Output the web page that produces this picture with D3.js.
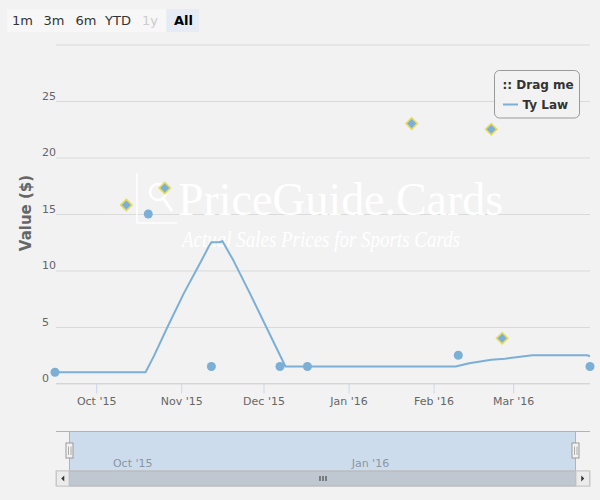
<!DOCTYPE html>
<html>
<head>
<meta charset="utf-8">
<script src="https://cdn.jsdelivr.net/npm/d3@7"></script>
<style>
  body { margin: 0; background: #f2f2f2; }
  svg { display: block; font-family: "DejaVu Sans", sans-serif; }
</style>
</head>
<body>
<script>
// Ty Law price history - line (rolling value), sales dots and listing diamonds

const lineDates = ["2015-09-16", "2015-10-19", "2015-10-22", "2015-10-27", "2015-11-02", "2015-11-08",
  "2015-11-11", "2015-11-12", "2015-11-15", "2015-11-16", "2015-11-20", "2015-11-26", "2015-12-02",
  "2015-12-07", "2015-12-09", "2016-02-09", "2016-02-14", "2016-02-22", "2016-02-27", "2016-03-08",
  "2016-03-28", "2016-03-29"];
const lineValues = [1.0, 1.0, 2.4, 5.0, 8.0, 10.7, 12.1, 12.5, 12.5, 12.6, 10.9, 8.0, 5.0,
  2.5, 1.5, 1.5, 1.8, 2.1, 2.2, 2.5, 2.5, 2.4];

const saleDates = ["2015-09-16", "2015-10-20", "2015-11-12", "2015-12-07", "2015-12-17", "2016-02-10", "2016-03-29"];
const saleValues = [1.0, 15.0, 1.5, 1.5, 1.5, 2.5, 1.5];

const gradedDates = ["2015-10-12", "2015-10-26", "2016-01-24", "2016-02-22", "2016-02-26"];
const gradedValues = [15.8, 17.3, 23.0, 22.5, 4.0];

const yTicks = [0, 5, 10, 15, 20, 25, 30];
const rangeButtons = ["1m", "3m", "6m", "YTD", "1y", "All"];
const seriesName = "Ty Law";

const parse = d3.timeParse("%Y-%m-%d");
const lineData = lineDates.map((d, i) => ({ date: parse(d), v: lineValues[i] }));
const saleData = saleDates.map((d, i) => ({ date: parse(d), v: saleValues[i] }));
const gradedData = gradedDates.map((d, i) => ({ date: parse(d), v: gradedValues[i] }));

const W = 600, H = 500;
const plot = { left: 55, right: 590, top: 44.5, bottom: 383.5 };
const blue = "#7bafd6";
const grid = "#d9d9d9";

const svg = d3.select("body").append("svg").attr("width", W).attr("height", H);
svg.append("rect").attr("width", W).attr("height", H).attr("fill", "#f2f2f2");

const domain = [parse("2015-09-16"), parse("2016-03-29")];
const x = d3.scaleTime().domain(domain).range([plot.left, plot.right]);
const y = d3.scaleLinear().domain([0, 30]).range([plot.bottom, plot.top]);

// range selector
const btns = svg.append("g");
btns.append("rect").attr("x", 7).attr("y", 9).attr("width", 159).attr("height", 23).attr("fill", "#f7f7f7");
rangeButtons.forEach((b, i) => {
  const isAll = b === "All";
  if (isAll) {
    btns.append("rect").attr("x", 166.5).attr("y", 9).attr("width", 32.5).attr("height", 23).attr("fill", "#e6ebf5");
  }
  btns.append("text")
    .attr("x", [22.5, 54, 86, 118, 150, 183.5][i])
    .attr("y", 24.5)
    .attr("text-anchor", "middle")
    .attr("font-size", "13px")
    .attr("font-weight", isAll ? "bold" : "normal")
    .attr("fill", b === "1y" ? "#cccccc" : isAll ? "#000" : "#333")
    .text(b);
});

// y grid + labels
const yAxis = d3.axisLeft(y)
  .tickValues(yTicks)
  .tickSize(-(plot.right - 56))
  .tickFormat((d) => (d === 30 ? "" : d));
const gy = svg.append("g").attr("transform", "translate(56,0)").call(yAxis);
gy.select(".domain").remove();
gy.selectAll(".tick line").attr("stroke", grid);
gy.selectAll(".tick text")
  .attr("x", -14)
  .attr("dy", "-2px")
  .attr("text-anchor", "start")
  .attr("font-family", "DejaVu Sans")
  .attr("font-size", "11px")
  .attr("fill", "#666");

svg.append("text")
  .attr("transform", "translate(31,213) rotate(-90)")
  .attr("text-anchor", "middle")
  .attr("font-size", "15px")
  .attr("font-weight", "bold")
  .attr("fill", "#666")
  .text("Value ($)");

// watermark
const wm = svg.append("g");
wm.append("rect").attr("x", 107).attr("y", 172).attr("width", 398).attr("height", 90)
  .attr("fill", "#fff").attr("opacity", 0.07);
wm.append("path")
  .attr("d", "M137,173 L137,223 L177,223")
  .attr("fill", "none").attr("stroke", "#fff").attr("stroke-width", 1.5).attr("opacity", 0.9);
wm.append("circle").attr("cx", 158).attr("cy", 192).attr("r", 8)
  .attr("fill", "none").attr("stroke", "#fff").attr("stroke-width", 2.5);
wm.append("path").attr("d", "M163,198 L172,211")
  .attr("stroke", "#fff").attr("stroke-width", 3);
wm.append("text")
  .attr("x", 178).attr("y", 215)
  .attr("font-family", "Liberation Serif, serif")
  .attr("font-size", "46px")
  .attr("textLength", 325)
  .attr("lengthAdjust", "spacingAndGlyphs")
  .attr("fill", "#fff")
  .text("PriceGuide.Cards");
wm.append("text")
  .attr("x", 182).attr("y", 247)
  .attr("font-family", "Liberation Serif, serif")
  .attr("font-style", "italic")
  .attr("font-size", "23px")
  .attr("textLength", 278)
  .attr("lengthAdjust", "spacingAndGlyphs")
  .attr("fill", "#fff")
  .text("Actual Sales Prices for Sports Cards");

// x axis
const xAxis = d3.axisBottom(x)
  .ticks(d3.timeMonth.every(1))
  .tickFormat(d3.timeFormat("%b '%y"))
  .tickSize(10)
  .tickSizeOuter(0);
const gx = svg.append("g").attr("transform", `translate(0,${plot.bottom})`).call(xAxis);
gx.select(".domain").attr("stroke", "#ccd6eb").attr("d", `M56,0H${plot.right}`);
gx.selectAll(".tick line").attr("stroke", "#ccd6eb");
gx.selectAll(".tick text")
  .attr("y", 14)
  .attr("font-family", "DejaVu Sans")
  .attr("font-size", "11px")
  .attr("fill", "#666");

// series
const line = d3.line().x((d) => x(d.date)).y((d) => y(d.v));
svg.append("path")
  .datum(lineData)
  .attr("d", line)
  .attr("fill", "none")
  .attr("stroke", blue)
  .attr("stroke-width", 2)
  .attr("stroke-linejoin", "round");

svg.selectAll("circle.sale")
  .data(saleData)
  .enter()
  .append("circle")
  .attr("class", "sale")
  .attr("cx", (d) => x(d.date))
  .attr("cy", (d) => y(d.v))
  .attr("r", 4.5)
  .attr("fill", blue);

const diamond = d3.symbol().type(d3.symbolSquare).size(64);
svg.selectAll("path.graded")
  .data(gradedData)
  .enter()
  .append("path")
  .attr("class", "graded")
  .attr("d", diamond)
  .attr("transform", (d) => `translate(${x(d.date)},${y(d.v)}) rotate(45)`)
  .attr("fill", blue)
  .attr("stroke", "#e8da5c")
  .attr("stroke-width", 1.6);

// legend
const lg = svg.append("g");
lg.append("rect").attr("x", 494.5).attr("y", 70.5).attr("width", 85).attr("height", 47.5)
  .attr("rx", 5).attr("fill", "#f2f2f2").attr("stroke", "#999");
lg.append("text").attr("x", 502.5).attr("y", 88.5).attr("font-size", "12px")
  .attr("font-weight", "bold").attr("fill", "#333").text(":: Drag me");
lg.append("line").attr("x1", 503).attr("x2", 518).attr("y1", 104.5).attr("y2", 104.5)
  .attr("stroke", blue).attr("stroke-width", 2);
lg.append("text").attr("x", 522.5).attr("y", 108.5).attr("font-size", "12px")
  .attr("font-weight", "bold").attr("fill", "#333").text(seriesName);

// navigator
const nav = { top: 431.5, bottom: 471, sbTop: 471, sbBottom: 486, left: 56, right: 590 };
const nx = d3.scaleTime().domain(domain).range([69.5, 575.5]);
const ng = svg.append("g");
ng.append("rect").attr("x", nx.range()[0]).attr("y", nav.top)
  .attr("width", nx.range()[1] - nx.range()[0]).attr("height", nav.bottom - nav.top)
  .attr("fill", "#cddcec");
const navAxis = d3.axisBottom(nx)
  .ticks(d3.timeMonth.every(3))
  .tickFormat(d3.timeFormat("%b '%y"))
  .tickSize(0);
const gnx = ng.append("g").attr("transform", `translate(0,${nav.top})`).call(navAxis);
gnx.select(".domain").remove();
gnx.selectAll(".tick text")
  .attr("x", 4).attr("y", 35).attr("dy", 0)
  .attr("text-anchor", "start")
  .attr("font-family", "DejaVu Sans")
  .attr("font-size", "11px")
  .attr("fill", "#8a96a6");
ng.append("path")
  .attr("d", `M${nav.left},${nav.top}H${nav.right}M${nx.range()[0]},${nav.top}V${nav.bottom}M${nx.range()[1]},${nav.top}V${nav.bottom}`)
  .attr("stroke", "#b3b3b3").attr("fill", "none");

// scrollbar
ng.append("rect").attr("x", nav.left).attr("y", nav.sbTop).attr("width", nav.right - nav.left)
  .attr("height", nav.sbBottom - nav.sbTop).attr("fill", "#f2f2f2").attr("stroke", "#c8c8c8");
ng.append("rect").attr("x", nx.range()[0]).attr("y", nav.sbTop).attr("width", nx.range()[1] - nx.range()[0])
  .attr("height", nav.sbBottom - nav.sbTop).attr("fill", "#bfc7d0").attr("stroke", "#b8b8b8");
const midX = (nx.range()[0] + nx.range()[1]) / 2;
[-3, 0, 3].forEach((o) => {
  ng.append("line").attr("x1", midX + o + 0.5).attr("x2", midX + o + 0.5)
    .attr("y1", 476).attr("y2", 481).attr("stroke", "#333");
});
[[nav.left, nx.range()[0]], [nx.range()[1], nav.right]].forEach(([a, b], i) => {
  ng.append("rect").attr("x", a + 0.5).attr("y", nav.sbTop).attr("width", b - a - 1)
    .attr("height", nav.sbBottom - nav.sbTop).attr("fill", "#ebebeb").attr("stroke", "#c8c8c8");
  const cx = (a + b) / 2, cy = (nav.sbTop + nav.sbBottom) / 2;
  ng.append("path")
    .attr("d", i === 0 ? `M${cx + 1.5},${cy - 3}L${cx - 1.5},${cy}L${cx + 1.5},${cy + 3}Z`
                       : `M${cx - 1.5},${cy - 3}L${cx + 1.5},${cy}L${cx - 1.5},${cy + 3}Z`)
    .attr("fill", "#333");
});

// handles
nx.range().forEach((hx) => {
  ng.append("rect").attr("x", hx - 3.5).attr("y", 443).attr("width", 7).attr("height", 15)
    .attr("fill", "#f2f2f2").attr("stroke", "#999");
  ng.append("path").attr("d", `M${hx - 1},446.5V455M${hx + 1.5},446.5V455`)
    .attr("stroke", "#999").attr("stroke-width", 0.8);
});
</script>
</body>
</html>
